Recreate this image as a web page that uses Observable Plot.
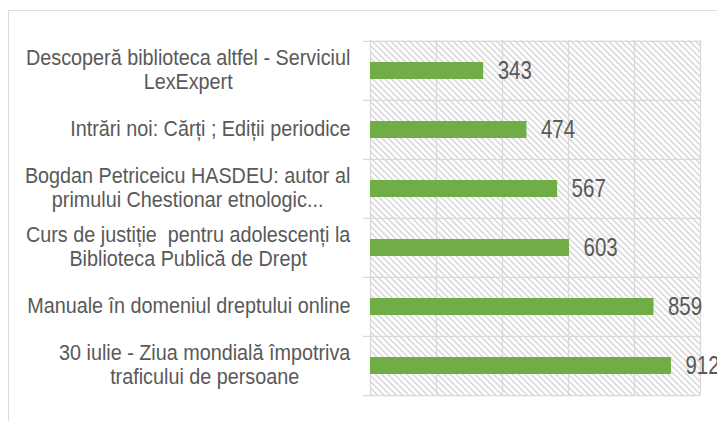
<!DOCTYPE html>
<html><head><meta charset="utf-8">
<script src="https://cdn.jsdelivr.net/npm/d3@7"></script>
<script src="https://cdn.jsdelivr.net/npm/@observablehq/plot@0.6"></script>
<style>
body{margin:0;background:#fff;}
#wrap{position:relative;width:717px;height:421px;overflow:hidden;}
#border{position:absolute;left:8px;top:10px;width:730px;height:430px;border:1.5px solid #dcdcdc;box-sizing:border-box;}
#chart{position:absolute;left:0;top:0;}
</style></head><body>
<div id="wrap"><div id="border"></div><div id="chart"></div></div>
<script>
const categories = [
  "Descoperă biblioteca altfel - Serviciul\nLexExpert",
  "Intrări noi: Cărți ; Ediții periodice",
  "Bogdan Petriceicu HASDEU: autor al\nprimului Chestionar etnologic...",
  "Curs de justiție  pentru adolescenți la\nBiblioteca Publică de Drept",
  "Manuale în domeniul dreptului online",
  "30 iulie - Ziua mondială împotriva\ntraficului de persoane"
];
const values = [343, 474, 567, 603, 859, 912];
const xTicks = [0, 200, 400, 600, 800, 1000];

const data = categories.map((c, i) => ({category: c, value: values[i]}));
const W = 717, H = 421, mt = 40, mb = 26, ml = 370, mr = 17;
const bw = (H - mt - mb) / categories.length;
const font = "'Liberation Sans', Arial, sans-serif";
const narrowValues = 0.82, narrowLabels = 0.9;
const hs = 4.4;

const defs = () => {
  const d = d3.create("svg:defs");
  const p = d.append("pattern").attr("id", "hatch").attr("patternUnits", "userSpaceOnUse")
    .attr("width", hs).attr("height", hs).attr("patternTransform", "rotate(-45)");
  p.append("rect").attr("width", hs).attr("height", hs).attr("fill", "#ffffff");
  p.append("line").attr("x1", 0.8).attr("y1", 0).attr("x2", 0.8).attr("y2", hs)
    .attr("stroke", "#d6d6d6").attr("stroke-width", 1.5);
  return d.node();
};

const plot = Plot.plot({
  width: W, height: H,
  marginTop: mt, marginBottom: mb, marginLeft: ml, marginRight: mr,
  style: {fontFamily: font, background: "transparent", overflow: "visible"},
  x: {domain: [0, 1000], axis: null},
  y: {domain: categories, axis: null, padding: 0},
  marks: [
    defs,
    Plot.frame({fill: "url(#hatch)", stroke: null}),
    Plot.ruleX(xTicks, {stroke: "#d9d9d9", strokeWidth: 1.3}),
    Plot.ruleY(categories, {y: d => d, dy: -bw / 2, stroke: "#d9d9d9", strokeWidth: 1.3, insetLeft: -7}),
    Plot.ruleY(categories.slice(-1), {y: d => d, dy: bw / 2, stroke: "#d9d9d9", strokeWidth: 1.3, insetLeft: -7}),
    Plot.barX(data, {y: "category", x: "value", fill: "#70ad47", insetTop: 21, insetBottom: 21}),
    Plot.text(data, {y: "category", x: "value", text: d => String(d.value), textAnchor: "start", dx: 14, fontSize: 25, fill: "#595959"}),
    Plot.text(data, {y: "category", x: 0, text: "category", textAnchor: "end", dx: -20, dy: -1.5, fontSize: 22, lineHeight: 1.08, fill: "#595959"})
  ]
});
document.getElementById("chart").append(plot);

const groups = plot.querySelectorAll('g[aria-label="text"]');
const valueGroup = groups[groups.length - 2];
const labelGroup = groups[groups.length - 1];
labelGroup.querySelectorAll("text").forEach(t => {
  const spans = t.querySelectorAll("tspan");
  if (!spans.length) return;
  let maxW = 0;
  spans.forEach(s => { maxW = Math.max(maxW, s.getComputedTextLength()); });
  t.setAttribute("text-anchor", "middle");
  spans.forEach(s => s.setAttribute("x", -maxW / 2));
});
// mimic a narrow typeface by horizontal scaling
function squeeze(gr, k) {
  gr.querySelectorAll("text").forEach(t => {
    const tr = t.getAttribute("transform");
    if (tr) {
      t.setAttribute("transform", tr + ` scale(${k},1)`);
    } else {
      const x = +t.getAttribute("x") || 0, y = +t.getAttribute("y") || 0;
      t.removeAttribute("x"); t.removeAttribute("y");
      t.setAttribute("transform", `translate(${x},${y}) scale(${k},1)`);
    }
  });
}
squeeze(valueGroup, narrowValues);
squeeze(labelGroup, narrowLabels);
</script>
</body></html>
